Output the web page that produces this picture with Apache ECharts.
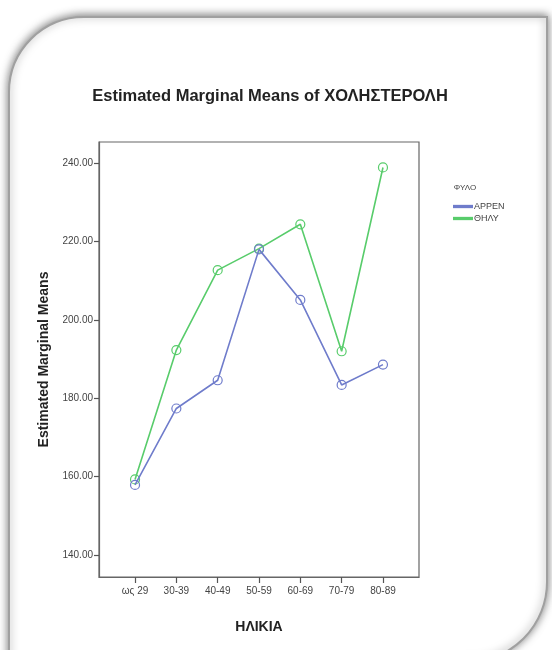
<!DOCTYPE html>
<html>
<head>
<meta charset="utf-8">
<script src="https://cdn.jsdelivr.net/npm/echarts@6/dist/echarts.min.js"></script>
<style>
html,body{margin:0;padding:0;background:#fff;}
#chart{width:552px;height:650px;}
</style>
</head>
<body>
<div id="chart"></div>
<script>
const categories = ['ως 29', '30-39', '40-49', '50-59', '60-69', '70-79', '80-89'];
const seriesNames = ['ΑΡΡΕΝ', 'ΘΗΛΥ'];
const maleValues = [157.9, 177.4, 184.6, 218.0, 205.1, 183.4, 188.6];
const femaleValues = [159.3, 192.3, 212.7, 218.2, 224.4, 192.0, 238.9];
const yTicks = [140, 160, 180, 200, 220, 240];
const xTicks = categories.map((c, i) => i);

const font = "'Liberation Sans', Arial, sans-serif";
const blue = '#6f7ccb';
const green = '#58cc6b';
const axisColor = '#666';

const chart = echarts.init(document.getElementById('chart'));
chart.setOption({
  backgroundColor: '#ffffff',
  animation: false,
  graphic: [{
    type: 'rect',
    z: -10,
    shape: { x: 9, y: 17, width: 538, height: 645, r: [75, 0, 80, 0] },
    style: {
      fill: '#ffffff',
      stroke: '#a0a0a0',
      lineWidth: 2,
      shadowBlur: 9,
      shadowColor: 'rgba(0,0,0,0.5)',
      shadowOffsetY: -1
    }
  }],
  title: [{
    text: 'Estimated Marginal Means of ΧΟΛΗΣΤΕΡΟΛΗ',
    left: 265, top: 83, textAlign: 'center',
    textStyle: { fontFamily: font, fontSize: 16.5, fontWeight: 'bold', color: '#222' }
  }, {
    text: 'ΦΥΛΟ',
    left: 460, top: 179, textAlign: 'center',
    textStyle: { fontFamily: font, fontSize: 8, fontWeight: 'normal', color: '#444' }
  }],
  legend: {
    orient: 'vertical',
    left: 448, top: 197,
    itemWidth: 18, itemHeight: 1.3,
    itemGap: 3,
    icon: 'rect',
    data: seriesNames,
    textStyle: { fontFamily: font, fontSize: 9, color: '#444', padding: [0, 0, 0, -3] }
  },
  grid: {
    left: 99, top: 142, width: 320, height: 435,
    show: true, borderColor: axisColor, borderWidth: 1.2, backgroundColor: 'transparent'
  },
  xAxis: {
    type: 'value',
    min: -0.872, max: 6.872,
    name: 'ΗΛΙΚΙΑ', nameLocation: 'middle', nameGap: 43,
    nameTextStyle: { fontFamily: font, fontSize: 14, fontWeight: 'bold', color: '#222' },
    axisLine: { show: true, onZero: false, lineStyle: { color: axisColor, width: 1.2 } },
    splitLine: { show: false },
    axisTick: { show: true, length: 6, customValues: xTicks, lineStyle: { color: '#555', width: 1.2 } },
    axisLabel: {
      customValues: xTicks,
      formatter: v => categories[Math.round(v)],
      fontFamily: font, fontSize: 10, color: '#444', margin: 9
    }
  },
  yAxis: {
    type: 'value',
    min: 134.4, max: 245.4,
    name: 'Estimated Marginal Means', nameLocation: 'middle', nameGap: 44,
    nameTextStyle: { fontFamily: font, fontSize: 14, fontWeight: 'bold', color: '#222' },
    axisLine: { show: true, onZero: false, lineStyle: { color: axisColor, width: 1.2 } },
    splitLine: { show: false },
    axisTick: { show: true, length: 5, customValues: yTicks, lineStyle: { color: '#555', width: 1.2 } },
    axisLabel: {
      customValues: yTicks,
      formatter: v => v.toFixed(2),
      fontFamily: font, fontSize: 10, color: '#444', margin: 6
    }
  },
  series: [{
    name: seriesNames[0],
    type: 'line',
    data: maleValues.map((v, i) => [i, v]),
    symbol: 'circle', symbolSize: 9,
    lineStyle: { color: blue, width: 1.6 },
    itemStyle: { color: 'rgba(255,255,255,0)', borderColor: blue, borderWidth: 1.2 },
    z: 3
  }, {
    name: seriesNames[1],
    type: 'line',
    data: femaleValues.map((v, i) => [i, v]),
    symbol: 'circle', symbolSize: 9,
    lineStyle: { color: green, width: 1.6 },
    itemStyle: { color: 'rgba(255,255,255,0)', borderColor: green, borderWidth: 1.2 },
    z: 2
  }]
});
</script>
</body>
</html>
